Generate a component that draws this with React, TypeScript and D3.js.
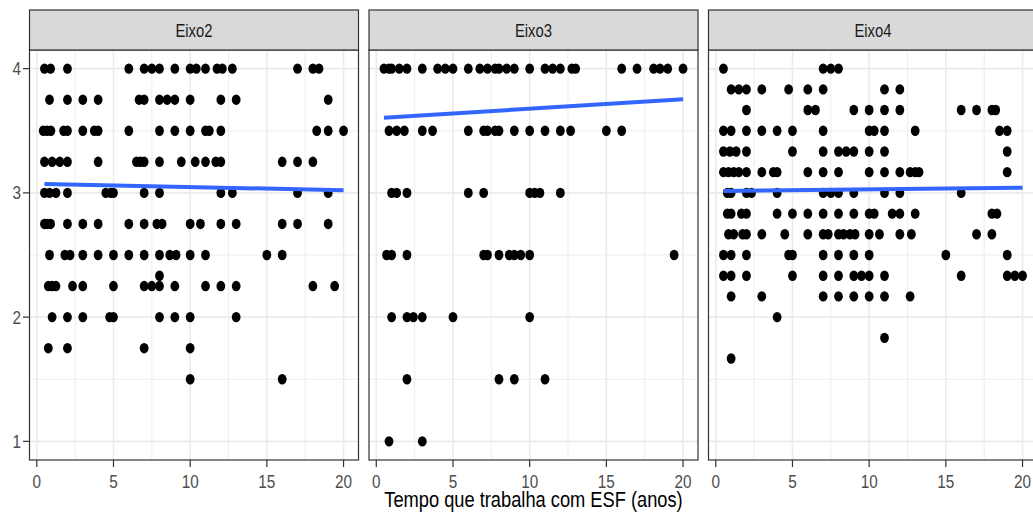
import React from "react";
import * as d3 from "d3";

// ---------- data ----------
const panelNames = ["Eixo2", "Eixo3", "Eixo4"];
const xTicks = [0, 5, 10, 15, 20];
const yTicks = [1, 2, 3, 4];
const xMinor = [2.5, 7.5, 12.5, 17.5];
const yMinor = [1.5, 2.5, 3.5];
const xTitle = "Tempo que trabalha com ESF (anos)";

// rows: [y value, x values]
const eixo2Rows: [number, number[]][] = [
  [4, [0.5, 0.9, 2, 6, 7, 7.5, 8, 9, 10, 10.4, 11, 11.75, 12.1, 12.75, 17, 18, 18.4]],
  [3.75, [0.83, 2, 3, 4, 6.67, 7, 8, 8.5, 9, 10, 12, 13, 19]],
  [3.5, [0.42, 0.67, 0.92, 1.75, 2, 3, 3.75, 4, 6, 8, 9, 10, 11, 11.25, 12, 18.25, 19, 20]],
  [3.25, [0.5, 1, 1.5, 2, 4, 6.5, 6.75, 7, 8, 9.42, 10.33, 11, 11.67, 12, 16, 17, 18]],
  [3, [0.5, 0.83, 1.25, 2, 4.5, 4.83, 5, 7, 8, 12, 12.75, 17, 19]],
  [2.75, [0.5, 0.67, 0.9, 2, 3, 4, 6, 7, 7.83, 8.17, 10, 10.67, 12, 13, 16, 17, 19]],
  [2.5, [0.83, 1.83, 2.17, 3, 4, 5, 6, 7, 8, 8.67, 9.08, 10, 11, 15, 16]],
  [2.333, [8]],
  [2.25, [0.75, 1, 1.25, 2.33, 3, 5, 7, 7.5, 8, 9, 11, 12, 13, 18, 19.42]],
  [2, [1, 2, 3, 4.75, 5, 8, 9, 10, 13]],
  [1.75, [0.75, 2, 7, 10]],
  [1.5, [10, 16]],
];

const eixo3Rows: [number, number[]][] = [
  [4, [0.5, 0.83, 1, 1.5, 2, 3, 4, 4.5, 5, 6, 6.75, 7.25, 7.75, 8, 8.5, 9, 10, 11, 11.5, 12, 12.75, 13, 16, 17, 18.08, 18.5, 19, 20]],
  [3.5, [0.83, 1.33, 1.83, 3, 3.67, 6, 7, 7.25, 7.75, 8, 9, 10, 11, 12, 12.67, 15, 16]],
  [3, [1, 1.33, 2, 6, 7, 10, 10.33, 10.67, 12]],
  [2.5, [0.67, 1, 2, 7, 7.25, 8, 8.67, 9, 9.42, 10, 19.42]],
  [2, [1, 2, 2.42, 3, 5, 10]],
  [1.5, [2, 8, 9, 11]],
  [1, [0.83, 3]],
];

const eixo4Rows: [number, number[]][] = [
  [4, [0.5, 7, 7.5, 8]],
  [3.833, [1, 1.5, 2, 3, 4.75, 6, 7, 11, 12]],
  [3.667, [2, 6, 6.5, 9, 10, 11, 12, 16, 17, 18, 18.25]],
  [3.5, [0.5, 1, 2, 3, 4, 5, 7, 10, 10.33, 11, 13, 18.5, 19]],
  [3.333, [0.5, 0.92, 1.33, 2, 5, 7, 8, 8.5, 9, 10, 11, 19]],
  [3.167, [0.5, 0.83, 1.17, 1.5, 2, 3, 3.75, 4, 6, 7, 8, 10, 11, 12, 12.67, 13, 13.25, 19]],
  [3, [0.75, 1, 2, 2.33, 4, 7, 7.5, 8, 9, 11, 12, 16]],
  [2.833, [0.75, 1, 1.67, 2, 4, 5, 6, 7, 8, 9, 10, 10.33, 11.5, 12, 13, 18, 18.33]],
  [2.667, [0.83, 1.17, 1.75, 2, 3, 4.5, 6, 7, 7.33, 8, 8.33, 8.75, 9.08, 10, 10.67, 12, 12.75, 17, 18]],
  [2.5, [0.5, 1, 2, 4.75, 5, 7, 8, 9, 10, 15, 19]],
  [2.333, [0.5, 1, 2, 5, 7, 8, 9, 9.5, 10, 11, 16, 19, 19.5, 20]],
  [2.167, [1, 3, 7, 8, 9, 10, 11, 12.67]],
  [2, [4]],
  [1.833, [11]],
  [1.667, [1]],
];

// fitted lm lines: [x start, x end], [y start, y end]
const fitX = [0.5, 20];
const fitY2 = [3.072, 3.021];
const fitY3 = [3.604, 3.754];
const fitY4 = [3.015, 3.042];

const panelRows = [eixo2Rows, eixo3Rows, eixo4Rows];
const panelFits = [fitY2, fitY3, fitY4];

// ---------- layout ----------
const W = 1033;
const H = 523;
const panelLefts = [29.5, 369, 708.5];
const panelW = 329;
const stripTop = 10;
const panelTop = 50;
const panelBottom = 460;
const SX = 0.85; // horizontal squeeze of text
const font = "'Liberation Sans', Arial, Helvetica, sans-serif";

export default function App() {
  const y = d3.scaleLinear().domain([0.85, 4.15]).range([panelBottom, panelTop]);
  const line = d3.line<[number, number]>();

  return (
    <svg
      width={W}
      height={H}
      style={{ position: "absolute", left: 0, top: 0, background: "#fff" }}
      fontFamily={font}
    >
      <rect x={0} y={0} width={W} height={H} fill="#fff" />
      {panelNames.map((name, pi) => {
        const left = panelLefts[pi];
        const x = d3.scaleLinear().domain([-0.475, 20.975]).range([left, left + panelW]);
        const pts: [number, number][] = [];
        panelRows[pi].forEach(([yv, xs]) => xs.forEach((xv) => pts.push([xv, yv])));
        const fit = panelFits[pi];
        const fitPts: [number, number][] = [
          [x(fitX[0]), y(fit[0])],
          [x(fitX[1]), y(fit[1])],
        ];
        return (
          <g key={name}>
            <rect x={left} y={panelTop} width={panelW} height={panelBottom - panelTop} fill="#fff" />
            {xMinor.map((v) => (
              <line key={"xm" + v} x1={x(v)} x2={x(v)} y1={panelTop} y2={panelBottom} stroke="#EBEBEB" strokeWidth={0.9} />
            ))}
            {yMinor.map((v) => (
              <line key={"ym" + v} x1={left} x2={left + panelW} y1={y(v)} y2={y(v)} stroke="#EBEBEB" strokeWidth={0.9} />
            ))}
            {xTicks.map((v) => (
              <line key={"xM" + v} x1={x(v)} x2={x(v)} y1={panelTop} y2={panelBottom} stroke="#EBEBEB" strokeWidth={1.6} />
            ))}
            {yTicks.map((v) => (
              <line key={"yM" + v} x1={left} x2={left + panelW} y1={y(v)} y2={y(v)} stroke="#EBEBEB" strokeWidth={1.8} />
            ))}
            {pts.map(([xv, yv], i) => (
              <ellipse key={i} cx={x(xv)} cy={y(yv)} rx={4.4} ry={5.2} fill="#000" />
            ))}
            <path d={line(fitPts) || ""} stroke="#3366FF" strokeWidth={4} fill="none" />
            <rect
              x={left}
              y={panelTop}
              width={panelW}
              height={panelBottom - panelTop}
              fill="none"
              stroke="#333333"
              strokeWidth={1.2}
            />
            <rect
              x={left}
              y={stripTop}
              width={panelW}
              height={panelTop - stripTop}
              fill="#D9D9D9"
              stroke="#333333"
              strokeWidth={1.2}
            />
            <text
              transform={`translate(${left + panelW / 2},${36.5}) scale(${SX},1)`}
              textAnchor="middle"
              fontSize={17.5}
              fill="#1A1A1A"
            >
              {name}
            </text>
            {xTicks.map((v) => (
              <g key={"xt" + v}>
                <line x1={x(v)} x2={x(v)} y1={panelBottom} y2={panelBottom + 7} stroke="#333333" strokeWidth={1.2} />
                <text
                  transform={`translate(${x(v)},${488}) scale(${SX},1)`}
                  textAnchor="middle"
                  fontSize={18}
                  fill="#4D4D4D"
                >
                  {v}
                </text>
              </g>
            ))}
            {pi === 0 &&
              yTicks.map((v) => (
                <g key={"yt" + v}>
                  <line x1={left - 6.5} x2={left} y1={y(v)} y2={y(v)} stroke="#333333" strokeWidth={1.2} />
                  <text
                    transform={`translate(${left - 8.5},${y(v) + 6.5}) scale(${SX},1)`}
                    textAnchor="end"
                    fontSize={18}
                    fill="#4D4D4D"
                  >
                    {v}
                  </text>
                </g>
              ))}
          </g>
        );
      })}
      <text
        transform={`translate(${panelLefts[1] + panelW / 2},${507}) scale(${SX},1)`}
        textAnchor="middle"
        fontSize={21.5}
        fill="#000"
      >
        {xTitle}
      </text>
    </svg>
  );
}
